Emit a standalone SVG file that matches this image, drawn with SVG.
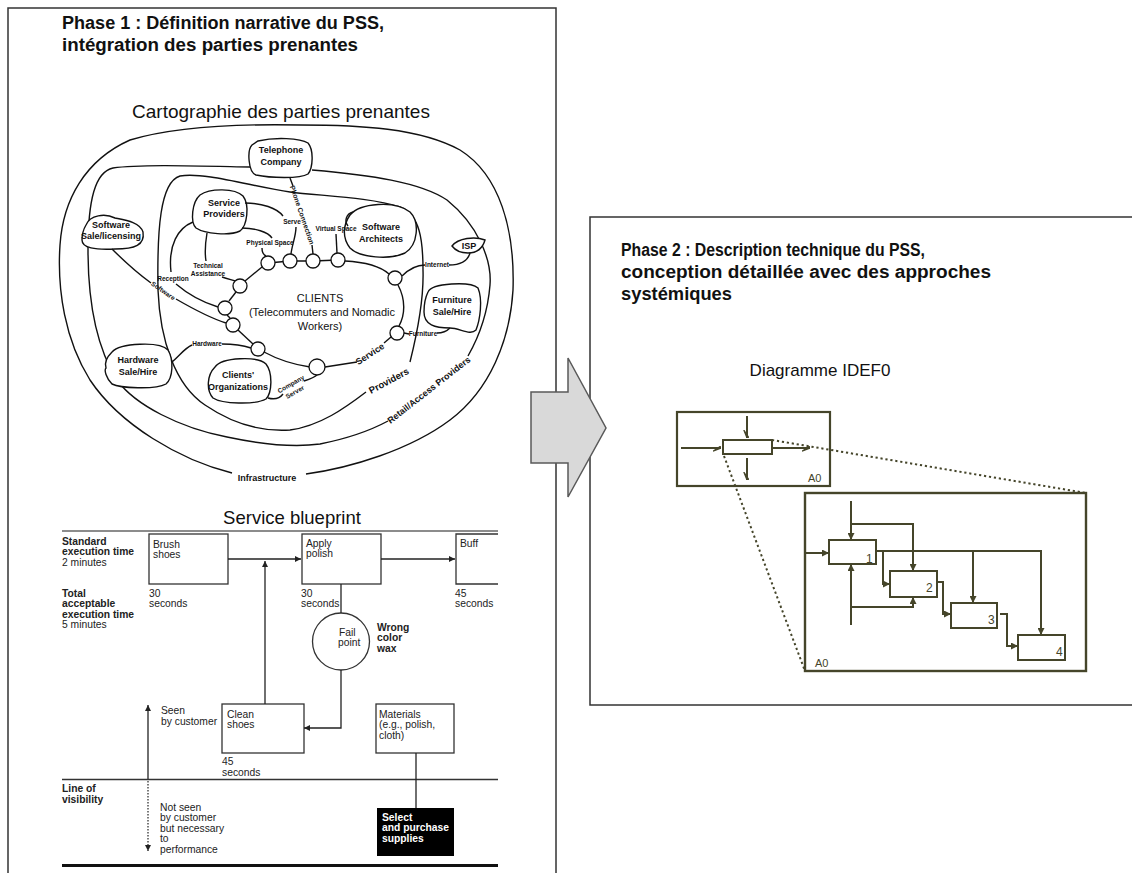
<svg xmlns="http://www.w3.org/2000/svg" width="1132" height="873" viewBox="0 0 1132 873">
<style>
.frame{fill:none;stroke:#333;stroke-width:1.5}
.title{font-family:"Liberation Sans",Arial,sans-serif;font-weight:bold;font-size:18px;fill:#111}
.sub{font-family:"Liberation Sans",Arial,sans-serif;font-size:18.5px;fill:#111;text-anchor:middle}
.ring{fill:none;stroke:#111;stroke-width:1.4}
.blob{fill:#fff;stroke:#111;stroke-width:1.4}
.ml{font-family:"Liberation Sans",Arial,sans-serif;font-weight:bold;font-size:9px;fill:#111;text-anchor:middle}
.ms{font-family:"Liberation Sans",Arial,sans-serif;font-weight:bold;font-size:6.5px;fill:#111;text-anchor:middle}
.cl{font-family:"Liberation Sans",Arial,sans-serif;font-size:11px;fill:#111;text-anchor:middle}
.circ{fill:#fff;stroke:#111;stroke-width:1.3}
.bp{fill:none;stroke:#333;stroke-width:1.3}
.bt{font-family:"Liberation Sans",Arial,sans-serif;font-size:10.3px;fill:#222}
.bb{font-family:"Liberation Sans",Arial,sans-serif;font-size:10.3px;font-weight:bold;fill:#222}
.ol{fill:none;stroke:#45452a;stroke-width:2}
.olt{font-family:"Liberation Sans",Arial,sans-serif;font-size:11px;fill:#45452a}
.dot{fill:none;stroke:#45452a;stroke-width:2;stroke-dasharray:2.2 2.8}
</style>
<defs>
<marker id="ab" viewBox="0 0 10 10" refX="10" refY="5" markerWidth="7" markerHeight="6" markerUnits="userSpaceOnUse" orient="auto"><path d="M0,0 L10,5 L0,10 z" fill="#222"/></marker>
<marker id="ao" viewBox="0 0 10 10" refX="10" refY="5" markerWidth="7" markerHeight="7" markerUnits="userSpaceOnUse" orient="auto"><path d="M0,0 L10,5 L0,10 z" fill="#45452a"/></marker>
<marker id="ah" viewBox="0 0 10 10" refX="10" refY="2" markerWidth="8" markerHeight="8" markerUnits="userSpaceOnUse" orient="auto"><path d="M0,6 L10,2 L9,0 z" fill="#45452a" stroke="#45452a" stroke-width="1.5"/></marker>
</defs>

<g id="frame-phase1">
<rect class="frame" x="8" y="8" width="548" height="900"/>
<text class="title" x="62" y="29" textLength="322" lengthAdjust="spacingAndGlyphs">Phase 1 : Définition  narrative du PSS,</text>
<text class="title" x="62" y="51" textLength="296" lengthAdjust="spacingAndGlyphs">intégration  des parties  prenantes</text>
</g>

<g id="frame-phase2">
<rect class="frame" x="590" y="217" width="570" height="488"/>
<text class="title" x="621" y="256" textLength="304" lengthAdjust="spacingAndGlyphs">Phase 2 : Description technique du PSS,</text>
<text class="title" x="621" y="278" textLength="370" lengthAdjust="spacingAndGlyphs">conception  détaillée  avec des approches</text>
<text class="title" x="621" y="300" textLength="111" lengthAdjust="spacingAndGlyphs">systémiques</text>
</g>

<g id="transition-arrow">
<polygon points="531,392 568,392 568,358 606,428 568,497 568,463 531,463" fill="#d9d9d9" stroke="#595959" stroke-width="1.5"/>
</g>

<g id="stakeholder-map">
<text class="sub" x="281" y="118" style="font-size:19px">Cartographie des parties prenantes</text>
<path class="ring" d="M232,473 C180,460 120,425 90,380 C65,340 57,290 60,245 C63,200 85,160 130,140 C180,125 250,124 300,125 C360,125 420,128 460,150 C500,175 515,230 513,290 C510,340 490,390 450,420 C410,450 350,468 306,474"/>
<path class="ring" d="M250,167 C200,166 140,164 113,168 C95,172 88,200 88,250 C88,300 95,345 117,380 C135,405 180,428 227,437 C260,444 290,448 320,444 C350,438 375,428 388,421"/>
<path class="ring" d="M468,356 C480,335 488,310 490,285 C492,260 478,225 447,200 C420,182 370,175 312,170"/>
<path class="ring" d="M410,362 C418,330 424,300 423,270 C423,240 420,215 400,207 C370,197 320,196 290,192 C250,186 205,172 180,176 C160,182 157,230 158,290 C160,340 175,385 205,405 C230,422 260,432 290,430 C320,426 345,408 366,392"/>
<text class="ml" x="267" y="481">Infrastructure</text>
<text class="ml" transform="translate(429,390) rotate(-38)" dy="3">Retail/Access Providers</text>
<text class="ml" transform="translate(389,381) rotate(-28)" dy="3" style="font-size:9.5px">Providers</text>
<text class="ml" transform="translate(370,354) rotate(-33)" dy="3">Service</text>

<g id="node-telephone">
<path class="blob" d="M258,141 C275,137 300,138 308,143 C314,150 313,168 308,174 C300,179 270,178 256,175 C248,172 247,150 252,145 Z"/>
<text class="ml" x="281" y="153">Telephone</text><text class="ml" x="281" y="165">Company</text>
</g>
<g id="node-service-providers">
<path class="blob" d="M200,195 C210,188 235,188 243,196 C250,205 247,226 240,231 C230,236 205,234 196,228 C190,222 192,202 200,195 Z"/>
<text class="ml" x="224" y="206">Service</text><text class="ml" x="224" y="217">Providers</text>
</g>
<g id="node-software-sale">
<path class="blob" d="M86,225 C90,215 105,213 115,218 C125,220 140,222 143,232 C145,245 135,249 115,249 C95,250 82,248 82,240 C82,233 83,230 86,225 Z"/>
<text class="ml" x="111" y="228">Software</text><text class="ml" x="111" y="239">Sale/licensing</text>
</g>
<g id="node-software-architects">
<path class="blob" d="M350,215 C360,203 395,200 410,212 C420,222 418,245 405,253 C390,260 360,258 350,248 C342,238 343,225 350,215 Z"/>
<text class="ml" x="381" y="230">Software</text><text class="ml" x="381" y="242">Architects</text>
</g>
<g id="node-isp">
<path class="blob" d="M452,246 C458,238 475,236 485,240 C483,247 478,253 468,253 C460,253 455,250 452,246 Z"/>
<text class="ml" x="469" y="249">ISP</text>
</g>
<g id="node-furniture">
<path class="blob" d="M428,292 C432,283 470,281 478,288 C483,300 480,320 476,330 C470,336 460,328 450,328 C435,328 424,325 424,312 C424,302 426,296 428,292 Z"/>
<text class="ml" x="452" y="303">Furniture</text><text class="ml" x="452" y="315">Sale/Hire</text>
</g>
<g id="node-hardware">
<path class="blob" d="M112,352 C120,343 160,341 168,350 C174,360 173,378 166,384 C155,390 120,388 112,384 C106,378 104,370 106,368 C104,362 107,357 112,352 Z"/>
<text class="ml" x="138" y="363">Hardware</text><text class="ml" x="138" y="375">Sale/Hire</text>
</g>
<g id="node-clients-org">
<path class="blob" d="M215,367 C222,357 258,356 266,364 C273,373 272,393 266,399 C255,405 222,404 213,398 C206,390 207,375 215,367 Z"/>
<text class="ml" x="238" y="378">Clients'</text><text class="ml" x="238" y="390">Organizations</text>
</g>
<g id="node-clients">
<text class="cl" x="320" y="302">CLIENTS</text>
<text class="cl" x="322" y="316">(Telecommuters and Nomadic</text>
<text class="cl" x="320" y="330">Workers)</text>
</g>

<g id="map-links">
<path class="ring" d="M268,263 L290,261 L313,261 L338,260"/>
<path class="ring" d="M345,261 C365,262 380,266 389,274"/>
<path class="ring" d="M398,285 C406,300 405,315 399,326"/>
<path class="ring" d="M391,337 L384,343"/>
<path class="ring" d="M357,362 L325,367"/>
<path class="ring" d="M310,367 C290,364 275,358 264,352"/>
<path class="ring" d="M253,344 L238,330"/>
<path class="ring" d="M230,318 L227,315"/>
<path class="ring" d="M229,301 L236,292"/>
<path class="ring" d="M245,281 L262,267"/>
<path class="ring" d="M290,178 L293,186"/>
<text class="ms" transform="translate(302,215) rotate(71)" dy="2.3" style="font-size:7px">Phone Connection</text>
<path class="ring" d="M312,245 L313,254"/>
<path class="ring" d="M245,203 C262,203 277,208 283,216"/>
<text class="ms" x="292" y="224">Serve</text>
<path class="ring" d="M296,227 C296,236 292,245 291,254"/>
<path class="ring" d="M242,228 C255,228 268,232 272,238"/>
<text class="ms" x="270" y="245">Physical Space</text>
<path class="ring" d="M262,248 C262,252 264,255 266,256"/>
<path class="ring" d="M353,212 C346,214 344,221 348,226"/>
<text class="ms" x="336" y="231">Virtual Space</text>
<path class="ring" d="M336,234 L337,253"/>
<path class="ring" d="M207,233 C205,245 205,255 206,261"/>
<text class="ms" x="208" y="268">Technical</text>
<text class="ms" x="208" y="276">Assistance</text>
<path class="ring" d="M222,277 C228,279 232,280 235,281"/>
<path class="ring" d="M193,222 C178,228 168,245 171,272"/>
<text class="ms" x="173" y="281">Reception</text>
<path class="ring" d="M176,284 C190,296 205,303 218,307"/>
<path class="ring" d="M112,249 C125,262 140,275 151,283"/>
<text class="ms" transform="translate(163,291) rotate(35)" dy="2">Software</text>
<path class="ring" d="M176,299 C195,310 210,318 226,323"/>
<path class="ring" d="M172,362 C180,355 185,348 192,345"/>
<text class="ms" x="207" y="346">Hardware</text>
<path class="ring" d="M222,344 C235,344 245,346 251,348"/>
<path class="ring" d="M402,276 C410,268 418,265 425,265"/>
<text class="ms" x="437" y="267">Internet</text>
<path class="ring" d="M449,265 C462,265 468,260 470,253"/>
<path class="ring" d="M404,333 L409,334"/>
<text class="ms" x="423" y="336">Furniture</text>
<path class="ring" d="M437,333 C445,333 448,330 450,328"/>
<path class="ring" d="M268,398 C275,400 280,398 283,394"/>
<text class="ms" transform="translate(292,386) rotate(-30)">Company</text>
<text class="ms" transform="translate(296,394) rotate(-30)">Server</text>
<path class="ring" d="M304,381 C310,379 315,377 317,375"/>
</g>
<g id="client-circles">
<circle class="circ" cx="268" cy="263" r="7"/>
<circle class="circ" cx="290" cy="261" r="7"/>
<circle class="circ" cx="313" cy="261" r="7"/>
<circle class="circ" cx="338" cy="260" r="7"/>
<circle class="circ" cx="395" cy="278" r="7"/>
<circle class="circ" cx="397" cy="333" r="7"/>
<circle class="circ" cx="317" cy="367" r="8"/>
<circle class="circ" cx="258" cy="349" r="7"/>
<circle class="circ" cx="233" cy="325" r="7"/>
<circle class="circ" cx="225" cy="308" r="7"/>
<circle class="circ" cx="240" cy="286" r="7"/>
</g>
</g>

<g id="service-blueprint">
<text class="sub" x="292" y="524">Service blueprint</text>
<line x1="62" y1="531" x2="498" y2="531" stroke="#666" stroke-width="1.5"/>
<line x1="62" y1="779.5" x2="498" y2="779.5" stroke="#333" stroke-width="1.5"/>
<line x1="62" y1="865.5" x2="498" y2="865.5" stroke="#111" stroke-width="3"/>
<g id="lbl-standard">
<text class="bb" x="62" y="545">Standard</text><text class="bb" x="62" y="555.3">execution time</text><text class="bt" x="62" y="565.6">2 minutes</text>
</g>
<g id="lbl-total">
<text class="bb" x="62" y="597">Total</text><text class="bb" x="62" y="607.3">acceptable</text><text class="bb" x="62" y="617.6">execution time</text><text class="bt" x="62" y="628">5 minutes</text>
</g>
<g id="node-brush">
<rect class="bp" x="149" y="534" width="79" height="50" fill="#fff"/>
<text class="bt" x="153" y="548">Brush</text><text class="bt" x="153" y="558.3">shoes</text>
<text class="bt" x="149" y="597">30</text><text class="bt" x="149" y="607.3">seconds</text>
</g>
<g id="node-apply">
<rect class="bp" x="302" y="534" width="79" height="50" fill="#fff"/>
<text class="bt" x="306" y="547">Apply</text><text class="bt" x="306" y="557.3">polish</text>
<text class="bt" x="301" y="597">30</text><text class="bt" x="301" y="607.3">seconds</text>
</g>
<g id="node-buff">
<path class="bp" d="M498,534 L456,534 L456,584 L498,584"/>
<text class="bt" x="460" y="547">Buff</text>
<text class="bt" x="455" y="597">45</text><text class="bt" x="455" y="607.3">seconds</text>
</g>
<g id="node-fail">
<circle class="bp" cx="341" cy="641.5" r="28.5" fill="#fff"/>
<text class="bt" x="339" y="636">Fail</text><text class="bt" x="338" y="646.3">point</text>
<text class="bb" x="377" y="631">Wrong</text><text class="bb" x="377" y="641.3">color</text><text class="bb" x="377" y="651.6">wax</text>
</g>
<g id="node-clean">
<rect class="bp" x="222" y="704" width="82" height="49" fill="#fff"/>
<text class="bt" x="227" y="718">Clean</text><text class="bt" x="227" y="728.3">shoes</text>
<text class="bt" x="222" y="765">45</text><text class="bt" x="222" y="775.5">seconds</text>
</g>
<g id="node-materials">
<rect class="bp" x="376" y="704" width="78" height="49" fill="#fff"/>
<text class="bt" x="379" y="718">Materials</text><text class="bt" x="379" y="728.3">(e.g., polish,</text><text class="bt" x="379" y="738.6">cloth)</text>
</g>
<g id="node-select">
<rect x="377" y="808" width="77" height="48" fill="#000"/>
<text class="bb" x="382" y="821" style="fill:#fff">Select</text><text class="bb" x="382" y="831.3" style="fill:#fff">and purchase</text><text class="bb" x="382" y="841.6" style="fill:#fff">supplies</text>
</g>
<g id="lbl-visibility">
<text class="bb" x="62" y="792">Line of</text><text class="bb" x="62" y="802.5">visibility</text>
<text class="bt" x="161" y="714">Seen</text><text class="bt" x="161" y="724.5">by customer</text>
<text class="bt" x="160" y="811">Not seen</text><text class="bt" x="160" y="821.4">by customer</text><text class="bt" x="160" y="831.8">but necessary</text><text class="bt" x="160" y="842.2">to</text><text class="bt" x="160" y="852.6">performance</text>
</g>
</g>

<g id="idef0">
<text class="sub" x="820" y="376" style="font-size:17px">Diagramme IDEF0</text>
<g id="node-a0-small">
<rect class="ol" x="677" y="412" width="153" height="74" style="stroke-width:2.2"/>
<rect class="ol" x="723" y="440" width="49" height="14"/>
<text class="olt" x="808" y="482">A0</text>
</g>
<g id="node-a0-big">
<rect class="ol" x="805" y="493" width="281" height="178" style="stroke-width:2.4"/>
<text class="olt" x="815" y="667">A0</text>
</g>
<g id="node-f1"><rect class="ol" x="829" y="540" width="47" height="24"/><text class="olt" x="866" y="563" style="font-size:12px">1</text></g>
<g id="node-f2"><rect class="ol" x="890" y="571" width="47" height="26"/><text class="olt" x="926" y="592" style="font-size:12px">2</text></g>
<g id="node-f3"><rect class="ol" x="951" y="603" width="46" height="25"/><text class="olt" x="988" y="624" style="font-size:12px">3</text></g>
<g id="node-f4"><rect class="ol" x="1018" y="635" width="47" height="25"/><text class="olt" x="1056" y="656" style="font-size:12px">4</text></g>
</g>

<g id="connectors">
<line x1="228" y1="559" x2="301" y2="559" stroke="#222" stroke-width="1.3" marker-end="url(#ab)"/>
<line x1="381" y1="559" x2="455" y2="559" stroke="#222" stroke-width="1.3" marker-end="url(#ab)"/>
<line x1="265" y1="704" x2="265" y2="561" stroke="#222" stroke-width="1.3" marker-end="url(#ab)"/>
<line x1="341" y1="584" x2="341" y2="613" stroke="#222" stroke-width="1.3"/>
<polyline points="341,670 341,728 304,728" fill="none" stroke="#222" stroke-width="1.3" marker-end="url(#ab)"/>
<line x1="416" y1="753" x2="416" y2="808" stroke="#222" stroke-width="1.3"/>
<line x1="148" y1="779" x2="148" y2="705" stroke="#222" stroke-width="1.3" marker-end="url(#ab)"/>
<line x1="148" y1="781" x2="148" y2="851" stroke="#222" stroke-width="1.2" stroke-dasharray="1.5 1.5" marker-end="url(#ab)"/>

<line x1="681" y1="448" x2="721" y2="448" class="ol" marker-end="url(#ah)"/>
<line x1="772" y1="448" x2="810" y2="448" class="ol" marker-end="url(#ah)"/>
<line x1="747" y1="416" x2="747" y2="438" class="ol" marker-end="url(#ah)"/>
<line x1="747" y1="458" x2="747" y2="480" class="ol" marker-end="url(#ah)"/>
<line x1="772" y1="440" x2="1086" y2="493" class="dot"/>
<line x1="724" y1="456" x2="805" y2="671" class="dot"/>

<line x1="851" y1="501" x2="851" y2="540" class="ol" marker-end="url(#ao)"/>
<polyline points="851,524 913,524 913,571" class="ol" marker-end="url(#ao)"/>
<line x1="805" y1="553" x2="829" y2="553" class="ol" marker-end="url(#ao)"/>
<polyline points="876,551 1041,551 1041,635" class="ol" marker-end="url(#ao)"/>
<line x1="973" y1="551" x2="973" y2="603" class="ol" marker-end="url(#ao)"/>
<polyline points="883,552 883,584 890,584" class="ol" marker-end="url(#ao)"/>
<line x1="851" y1="625" x2="851" y2="564" class="ol" marker-end="url(#ao)"/>
<polyline points="851,607 913,607 913,597" class="ol" marker-end="url(#ao)"/>
<polyline points="937,582 943,582 943,614 951,614" class="ol" marker-end="url(#ao)"/>
<polyline points="1000,614 1007,614 1007,646 1018,646" class="ol" marker-end="url(#ao)"/>
</g>
</svg>
